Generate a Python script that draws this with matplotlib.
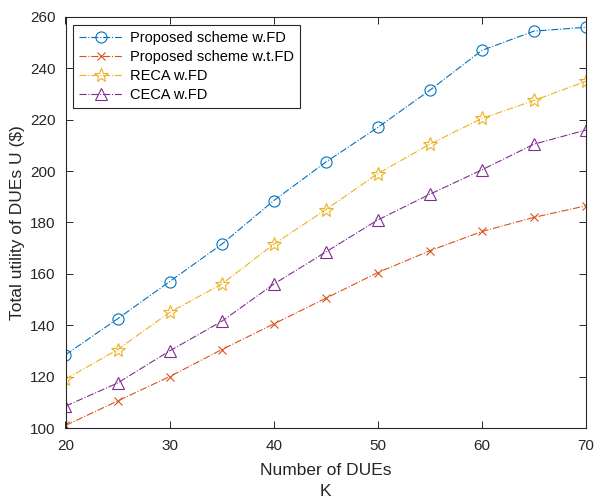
import matplotlib
matplotlib.use("Agg")
import matplotlib.pyplot as plt

plt.rcParams['font.family'] = ['Liberation Sans', 'DejaVu Sans']

num_dues = [20, 25, 30, 35, 40, 45, 50, 55, 60, 65, 70]
proposed_fd = [128.5, 142.5, 157, 171.5, 188.5, 203.5, 217, 231.5, 247, 254.5, 256]
proposed_wtfd = [101, 110.5, 120, 130.5, 140.5, 150.5, 160.5, 169, 176.5, 182, 186.5]
reca_fd = [119, 130.5, 145, 156, 171.5, 185, 199, 210.5, 220.5, 227.5, 235]
ceca_fd = [108.5, 117.5, 130, 141.5, 156, 168.5, 181, 191, 200.5, 210.5, 216]

series_labels = ["Proposed scheme w.FD", "Proposed scheme w.t.FD", "RECA w.FD", "CECA w.FD"]
x_ticks = [20, 30, 40, 50, 60, 70]
y_ticks = [100, 120, 140, 160, 180, 200, 220, 240, 260]

txt = '#262626'
fig = plt.figure(figsize=(5.96, 4.98), dpi=100)
ax = fig.add_axes([65.5 / 596, 1 - 428 / 498, (586 - 65.5) / 596, (428 - 17) / 498])

styles = [
    dict(color='#0072BD', marker='o', ms=8, mfc='none'),
    dict(color='#D95319', marker='x', ms=6),
    dict(color='#EDB120', marker='*', ms=10, mfc='none'),
    dict(color='#7E2F8E', marker='^', ms=9, mfc='none'),
]
for ys, lab, st in zip([proposed_fd, proposed_wtfd, reca_fd, ceca_fd], series_labels, styles):
    ax.plot(num_dues, ys, linestyle='-.', lw=0.8, mew=0.8, label=lab, **st)

ax.set_xlim(20, 70)
ax.set_ylim(100, 260)
ax.set_xticks(x_ticks)
ax.set_yticks(y_ticks)
ax.tick_params(direction='in', top=True, right=True, labelsize=11, length=5,
               width=0.7, colors=txt, labelcolor=txt)
ax.tick_params(axis='x', pad=8)
ax.tick_params(axis='y', pad=7)
for s in ax.spines.values():
    s.set_linewidth(0.8)
    s.set_color(txt)

ax.set_xlabel("Number of DUEs\nK", fontsize=12.5, linespacing=1.55, labelpad=7, color=txt)
ax.set_ylabel("Total utility of DUEs U ($)", fontsize=12.5, labelpad=4, color=txt)

leg = ax.legend(loc='upper left', bbox_to_anchor=(7.5 / 520.5, 1 - 8 / 411), borderaxespad=0,
                fontsize=10.5, fancybox=False, edgecolor=txt, framealpha=1,
                handlelength=3, borderpad=0.4, labelspacing=0.35, handletextpad=0.5)
leg.get_frame().set_linewidth(0.8)
for t in leg.get_texts():
    t.set_color('black')

fig.savefig("out.png", dpi=100)
